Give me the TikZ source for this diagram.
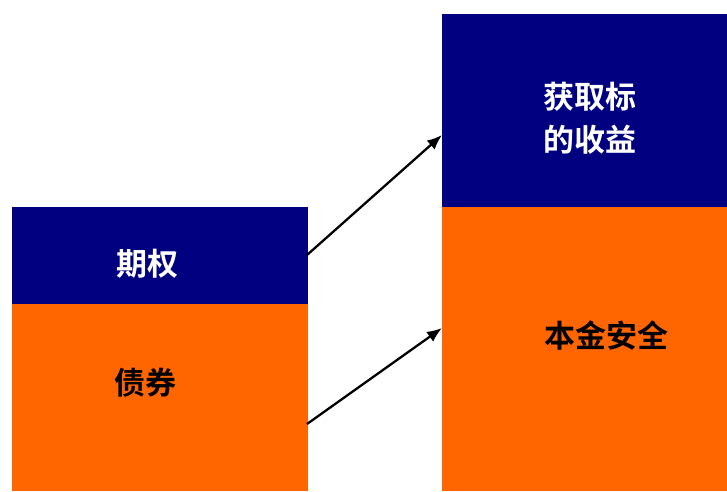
\documentclass[tikz,border=0pt]{standalone}
\usepackage{fontspec}
\usetikzlibrary{arrows.meta}
\newfontfamily\cjk{Noto Sans CJK SC Bold}
\definecolor{navyblk}{RGB}{0,0,128}
\definecolor{orangeblk}{RGB}{255,102,0}
\begin{document}
\begin{tikzpicture}[x=1pt,y=-1pt,
  navybox/.style={fill=navyblk,draw=none},
  orangebox/.style={fill=orangeblk,draw=none},
  lbl/.style={font=\cjk\fontsize{31}{43}\selectfont,align=center,inner sep=0pt},
  arr/.style={line width=2.3pt,-{Latex[length=15pt,width=12pt]}}]
\useasboundingbox (0,0) rectangle (727,491);
\fill[navybox] (12,207) rectangle (308,304);
\fill[orangebox] (12,304) rectangle (308,491);
\fill[navybox] (442,14) rectangle (727,207);
\fill[orangebox] (442,207) rectangle (727,491);
\node[lbl,text=white] (qq) at (147,264) {期权};
\node[lbl,text=black] (zq) at (145,383) {债券};
\node[lbl,text=white] (hq) at (590,118) {获取标\\的收益};
\node[lbl,text=black] (bj) at (606,336) {本金安全};
\coordinate (a1s) at (307,255);
\coordinate (a1e) at (442,135);
\coordinate (a2s) at (307,424);
\coordinate (a2e) at (442,328);
\draw[arr] (a1s) -- (a1e);
\draw[arr] (a2s) -- (a2e);
\end{tikzpicture}
\end{document}
